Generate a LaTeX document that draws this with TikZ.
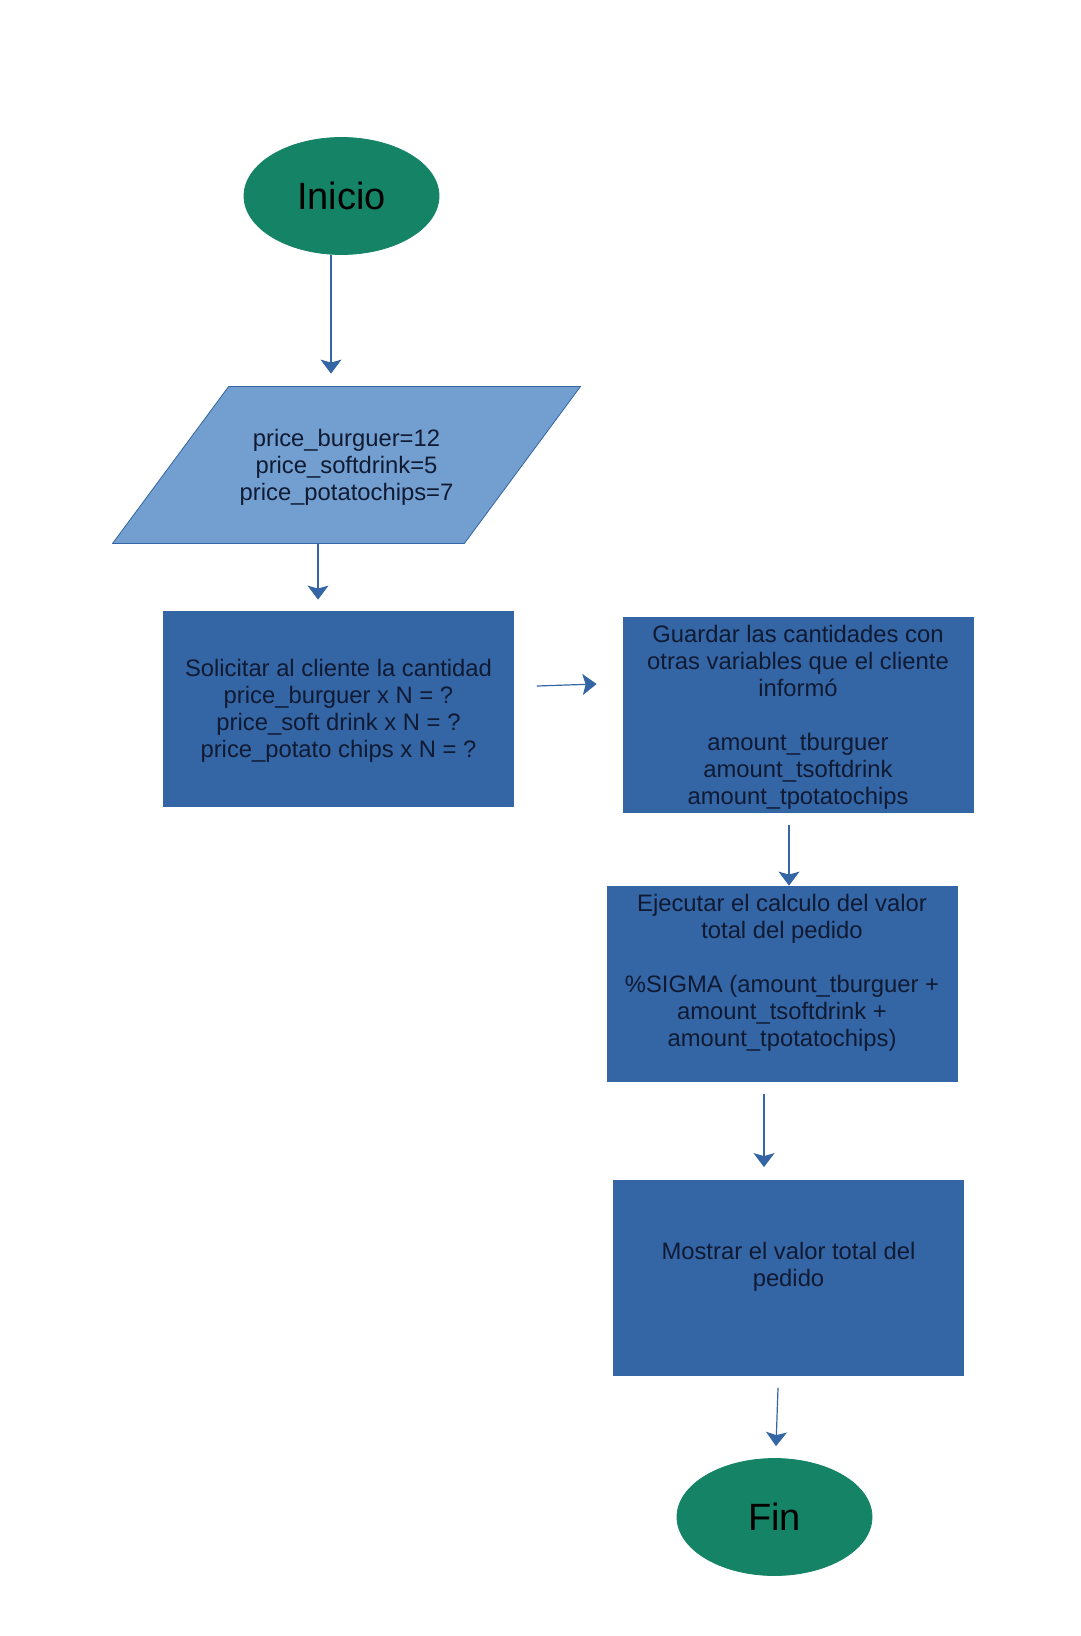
\documentclass[tikz,border=0pt]{standalone}
\usepackage{fontspec}
\setmainfont{Liberation Sans}
\usetikzlibrary{arrows.meta,positioning,calc,shapes.geometric,backgrounds}
\definecolor{terminal}{HTML}{158466}
\definecolor{inputbox}{HTML}{729FCF}
\definecolor{process}{HTML}{3465A4}
\definecolor{inktext}{HTML}{101A33}

\begin{document}
\begin{tikzpicture}[x=0.5pt,y=-0.5pt,
  term/.style={ellipse,fill=terminal,draw=terminal,inner sep=0pt,
    minimum width=97.5pt,minimum height=58.5pt,
    font=\fontsize{19pt}{22pt}\selectfont,text=black},
  datain/.style={rectangle,inner sep=0pt,text depth=0pt,
    minimum width=175.5pt,minimum height=78pt,align=center,
    font=\fontsize{11.9pt}{13.5pt}\selectfont,text=inktext},
  datashape/.style={fill=inputbox,draw=process,line width=0.4pt},
  procbox/.style={rectangle,fill=process,draw=process,inner sep=0pt,text depth=0pt,
    minimum width=175pt,minimum height=97.5pt,align=center,
    font=\fontsize{11.9pt}{13.5pt}\selectfont,text=inktext},
  flow/.style={process,line width=0.6pt,-{Stealth[length=7pt,width=10.5pt,inset=1.5pt]}}]
  \useasboundingbox (0,0) rectangle (1080,1636);

  % Start and input
  \node[term] (ini) at (341.5,196) {Inicio};
  \node[datain] (prices) at (346.5,465)
    {price\_burguer=12\\price\_softdrink=5\\price\_potatochips=7};
  \begin{scope}[on background layer]
    \draw[datashape] ($(prices.north west)+(58,0)$) -- ($(prices.north east)+(58,0)$)
      -- ($(prices.south east)+(-58,0)$) -- ($(prices.south west)+(-58,0)$) -- cycle;
  \end{scope}

  % Process boxes
  \node[procbox] (ask) at (338.5,708.5)
    {Solicitar al cliente la cantidad\\price\_burguer x N = ?\\price\_soft drink x N = ?\\price\_potato chips x N = ?};
  \node[procbox] (store) at (798,714.5)
    {Guardar las cantidades con\\otras variables que el cliente\\informó\\[13.5pt]amount\_tburguer\\amount\_tsoftdrink\\amount\_tpotatochips};
  \node[procbox] (calcsum) at (782,983.5)
    {Ejecutar el calculo del valor\\total del pedido\\[13.5pt]\%SIGMA (amount\_tburguer +\\amount\_tsoftdrink +\\amount\_tpotatochips)\\\mbox{}};
  \node[procbox] (show) at (788.5,1278)
    {Mostrar el valor total del\\pedido\\\mbox{}};

  % End
  \node[term] (fin) at (774.5,1517) {Fin};

  % Arrows
  \draw[flow] ($(ini.south)+(-10.5,0)$) -- ($(prices.north)+(-15.5,-13)$);
  \draw[flow] ($(prices.south)+(-28.5,0)$) -- ($(ask.north)+(-20.5,-11)$);
  \draw[flow] ($(ask.east)+(23,-22.5)$) -- ($(store.west)+(-26,-30.5)$);
  \draw[flow] ($(store.south)+(-9,13)$) -- ($(calcsum.north)+(7,0)$);
  \draw[flow] ($(calcsum.south)+(-18,13)$) -- ($(show.north)+(-24.5,-13)$);
  \draw[flow] ($(show.south)+(-10.5,12)$) -- ($(fin.north)+(1.5,-12)$);
\end{tikzpicture}
\end{document}
